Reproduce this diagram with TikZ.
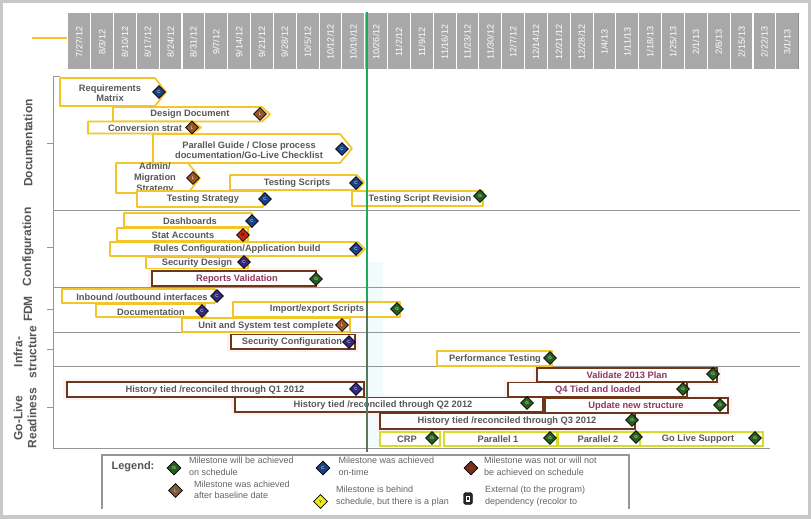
\documentclass[tikz,border=0pt]{standalone}
\usepackage{fontspec}
\setmainfont{Liberation Sans}
\usetikzlibrary{shapes.geometric}
\definecolor{frameG}{RGB}{200,200,200}
\definecolor{hdrG}{RGB}{168,168,168}
\definecolor{barY}{RGB}{242,198,40}
\definecolor{barR}{RGB}{110,55,25}
\definecolor{barL}{RGB}{212,222,40}
\definecolor{glowP}{RGB}{253,242,246}
\definecolor{cyanB}{RGB}{242,251,252}
\definecolor{txtG}{RGB}{88,88,88}
\definecolor{txtM}{RGB}{140,55,95}
\definecolor{secT}{RGB}{85,85,85}
\definecolor{axisG}{RGB}{150,150,150}
\definecolor{todayG}{RGB}{30,170,90}
\definecolor{todayD}{RGB}{85,120,95}
\definecolor{msBc}{RGB}{25,65,135}
\definecolor{msPc}{RGB}{50,40,130}
\definecolor{msGc}{RGB}{35,95,30}
\definecolor{msOc}{RGB}{150,85,40}
\definecolor{msRc}{RGB}{190,40,20}
\definecolor{msKc}{RGB}{115,50,25}
\definecolor{msNc}{RGB}{125,90,60}
\definecolor{msYc}{RGB}{235,235,30}
\definecolor{legT}{RGB}{100,100,100}
\newcommand\chevbar[6]{\draw[#1] (#2,#3) -- (#4,#3) -- (#6,{(#3+#5)/2}) -- (#4,#5) -- (#2,#5) -- cycle;}
\newcommand\glowbox[4]{\fill[glowP] (#1-4,#2-3) rectangle (#3+4,#4+3);}
\begin{document}
\begin{tikzpicture}[x=1pt,y=-1pt,
  lbl/.style={font=\bfseries\fontsize{9.3}{10}\selectfont, text=txtG, inner sep=0pt},
  lblm/.style={lbl, text=txtM},
  ybar/.style={draw=barY, line width=1.7pt, fill=white, line join=round},
  rbar/.style={draw=barR, line width=1.7pt, fill=white},
  lbar/.style={draw=barL, line width=1.7pt, fill=white},
  ms/.style={diamond, draw=black, line width=0.6pt, inner sep=0pt, minimum width=13pt, minimum height=13pt, font=\fontsize{4.5}{5}\selectfont, text=white!85!yellow},
  msB/.style={ms, fill=msBc}, msP/.style={ms, fill=msPc}, msG/.style={ms, fill=msGc},
  msO/.style={ms, fill=msOc}, msR/.style={ms, fill=msRc, text=black},
  hdrT/.style={rotate=90, text=white, font=\fontsize{9}{10}\selectfont, inner sep=0pt},
  secl/.style={font=\bfseries\fontsize{12}{14}\selectfont, text=secT, rotate=90, align=center, inner sep=0pt},
  sep/.style={draw=axisG, line width=0.9pt},
  legtxt/.style={font=\fontsize{9}{11.5}\selectfont, text=legT, align=left, anchor=west, inner sep=0pt},
  legms/.style={ms, minimum width=14pt, minimum height=14pt}
]
\useasboundingbox (0,0) rectangle (811,519);
% frame
\fill[frameG] (0,0) rectangle (811,519);
\fill[white] (3,3) rectangle (808,515);
% faint backgrounds
\fill[cyanB] (368,262) rectangle (383,447);
\glowbox{152}{271}{316}{286}
\glowbox{231}{334.5}{355}{349}
\glowbox{67}{382}{364}{397}
\glowbox{537}{368}{717}{382}
\glowbox{508}{382.5}{687}{397}
\glowbox{235}{397.5}{543}{412}
\glowbox{545}{398}{728}{413}
\glowbox{380}{413.5}{635}{429}
% header
\draw[barY, line width=1.5pt] (32,38) -- (67,38);
\foreach \d [count=\i from 0] in {7/27/12,8/3/12,8/10/12,8/17/12,8/24/12,8/31/12,9/7/12,9/14/12,9/21/12,9/28/12,10/5/12,10/12/12,10/19/12,10/26/12,11/2/12,11/9/12,11/16/12,11/23/12,11/30/12,12/7/12,12/14/12,12/21/12,12/28/12,1/4/13,1/11/13,1/18/13,1/25/13,2/1/13,2/8/13,2/15/13,2/22/13,3/1/13}{
  \fill[hdrG] ({68.3+22.84*\i},13) rectangle ({68.3+22.84*\i+21.8},69);
  \node[hdrT] (d\i) at ({68.3+22.84*\i+10.9},42) {\d};
}
\draw[black!45, line width=1pt] (798.6,13) -- (798.6,69);
% axis and separators
\draw[sep] (60,76) -- (53,76) -- (53,448);
\foreach \yy in {210,287,332,366}{\draw[sep] (53,\yy) -- (800,\yy);}
\draw[sep] (53,448) -- (770,448);
\foreach \yy in {143,247,309,349,407}{\draw[sep] (47,\yy) -- (53,\yy);}
% section labels
\node[secl] (s1) at (28,143) {Documentation};
\node[secl] (s2) at (28,247) {Configuration};
\node[secl] (s3) at (28,309) {FDM};
\node[secl] (s4) at (25,352) {Infra-\\structure};
\node[secl] (s5) at (25,418) {Go-Live\\Readiness};
% ---- Documentation
\chevbar{ybar}{60}{78}{155}{106}{166}
\node[lbl,align=center] (t1) at (110,93) {Requirements\\Matrix};
\chevbar{ybar}{113}{107}{262}{121.5}{270}
\node[lbl] (t2) at (190,114.5) {Design Document};
\chevbar{ybar}{88}{121.5}{192}{133.5}{201}
\node[lbl] (t3) at (145,128) {Conversion strat};
\chevbar{ybar}{153}{134}{340}{163}{352}
\node[lbl,align=center] (t4) at (249,150) {Parallel Guide / Close process\\documentation/Go-Live Checklist};
\chevbar{ybar}{116}{163}{188}{193}{200}
\node[lbl,align=center,font=\bfseries\fontsize{9.3}{11}\selectfont] (t5) at (155,178) {Admin/\\Migration\\Strategy};
\chevbar{ybar}{230}{175}{357}{190}{364}
\node[lbl] (t6) at (297,183) {Testing Scripts};
\draw[ybar] (137,191) rectangle (263,207);
\node[lbl] (t7) at (203,199.5) {Testing Strategy};
\draw[ybar] (352,191) rectangle (483,206);
\node[lbl] (t8) at (420,199) {Testing Script Revision};
% ---- Configuration
\draw[ybar] (124,213) rectangle (252,227);
\node[lbl] (t9) at (190,221) {Dashboards};
\draw[ybar] (117,228) rectangle (248,241);
\node[lbl] (t10) at (183,235.5) {Stat Accounts};
\chevbar{ybar}{110}{242}{358}{256}{365}
\node[lbl] (t11) at (237,249.5) {Rules Configuration/Application build};
\draw[ybar] (146,257.5) rectangle (248,268.5);
\node[lbl] (t12) at (197,263) {Security Design};
\draw[rbar] (152,271) rectangle (316,286);
\node[lblm] (t13) at (237,279) {Reports Validation};
% ---- FDM
\draw[ybar] (62,289) rectangle (215,303);
\node[lbl] (t14) at (142,297) {Inbound /outbound interfaces};
\draw[ybar] (96,304) rectangle (205,317);
\node[lbl] (t15) at (151,312) {Documentation};
\draw[ybar] (233,302) rectangle (400,317);
\node[lbl] (t16) at (317,309.5) {Import/export Scripts};
\draw[ybar] (182,318) rectangle (350,332);
\node[lbl] (t17) at (266,326) {Unit and System test complete};
% ---- Infra-structure
\draw[rbar] (231,334.5) rectangle (355,349);
\node[lbl] (t18) at (292,342.5) {Security Configuration};
\draw[ybar] (437,351) rectangle (552,366);
\node[lbl] (t19) at (495,359) {Performance Testing};
% ---- Go-Live Readiness
\draw[rbar] (67,382) rectangle (364,397);
\node[lbl] (t20) at (215,390) {History tied /reconciled through Q1 2012};
\draw[rbar] (537,368) rectangle (717,382);
\node[lblm] (t21) at (627,375.5) {Validate 2013 Plan};
\draw[rbar] (508,382.5) rectangle (687,397);
\node[lblm] (t22) at (598,390) {Q4 Tied and loaded};
\draw[rbar] (235,397.5) rectangle (543,412);
\node[lbl] (t23) at (383,405) {History tied /reconciled through Q2 2012};
\draw[rbar] (545,398) rectangle (728,413);
\node[lblm] (t24) at (636,406.5) {Update new structure};
\draw[rbar] (380,413.5) rectangle (635,429);
\node[lbl] (t25) at (507,421.5) {History tied /reconciled through Q3 2012};
\draw[lbar] (380,432) rectangle (440,446);
\node[lbl] (t26) at (407,439.5) {CRP};
\draw[lbar] (444,432) rectangle (557,446);
\node[lbl] (t27) at (498,439.5) {Parallel 1};
\draw[lbar] (558,432) rectangle (640,446);
\node[lbl] (t28) at (598,439.5) {Parallel 2};
\draw[lbar] (640,432) rectangle (763,446);
\node[lbl] (t29) at (698,439.5) {Go Live Support};
% today line
\draw[todayG, line width=1.6pt] (367,12) -- (367,300);
\draw[todayD, line width=1.3pt] (367,300) -- (367,452);
% milestones
\node[msB] (m1) at (159,92) {C};
\node[msO] (m2) at (260,114) {L};
\node[msO] (m3) at (192,127.5) {L};
\node[msB] (m4) at (342,149) {C};
\node[msO] (m5) at (193,178) {L};
\node[msB] (m6) at (356,183) {C};
\node[msB] (m7) at (265,199) {C};
\node[msG] (m8) at (480,196) {G};
\node[msB] (m9) at (252,221) {C};
\node[msR] (m10) at (243,235) {R};
\node[msB] (m11) at (356,249) {C};
\node[msP] (m12) at (244,262) {C};
\node[msG] (m13) at (316,279) {G};
\node[msP] (m14) at (217,296) {C};
\node[msP] (m15) at (202,311) {C};
\node[msG] (m16) at (397,309) {G};
\node[msO] (m17) at (342,325) {L};
\node[msP] (m18) at (349,342) {C};
\node[msG] (m19) at (550,358) {G};
\node[msP] (m20) at (356,389) {C};
\node[msG] (m21) at (527,403) {G};
\node[msG] (m22) at (713,374) {G};
\node[msG] (m23) at (683,389) {G};
\node[msG] (m24) at (720,405) {G};
\node[msG] (m25) at (632,420) {G};
\node[msG] (m26) at (432,438) {G};
\node[msG] (m27) at (550,438) {G};
\node[msG] (m28) at (636,437) {G};
\node[msG] (m29) at (755,438) {G};
% legend
\draw[axisG, line width=1.2pt] (102,509) -- (102,455) -- (629,455) -- (629,509);
\node[font=\bfseries\fontsize{11}{12}\selectfont, text=secT, inner sep=0pt] (leg) at (133,466.5) {Legend:};
\node[legms, fill=msGc] (lg1) at (174,468) {G};
\node[legtxt] (lt1) at (189,466.5) {Milestone will be achieved\\on schedule};
\node[legms, fill=msBc] (lg2) at (323,468) {C};
\node[legtxt] (lt2) at (338.5,466.5) {Milestone was achieved\\on-time};
\node[legms, fill=msKc, text=msRc] (lg3) at (471,468) {R};
\node[legtxt] (lt3) at (484,466.5) {Milestone was not or will not\\be achieved on schedule};
\node[legms, fill=msNc] (lg4) at (175.5,490.5) {L};
\node[legtxt] (lt4) at (194,490) {Milestone was achieved\\after baseline date};
\node[legms, fill=msYc, text=black] (lg5) at (320.5,501.5) {Y};
\node[legtxt] (lt5) at (336,496) {Milestone is behind\\schedule, but there is a plan};
\node[draw=black, fill=black!85, rounded corners=2.5pt, minimum width=9pt, minimum height=12pt, inner sep=0pt] (lg6) at (468,498.5) {};
\fill[white] (465.8,495.5) rectangle (470.2,501.5);
\fill[black!85] (467,497) rectangle (469,500);
\node[legtxt] (lt6) at (485,496) {External (to the program)\\dependency (recolor to};
\end{tikzpicture}
\end{document}
